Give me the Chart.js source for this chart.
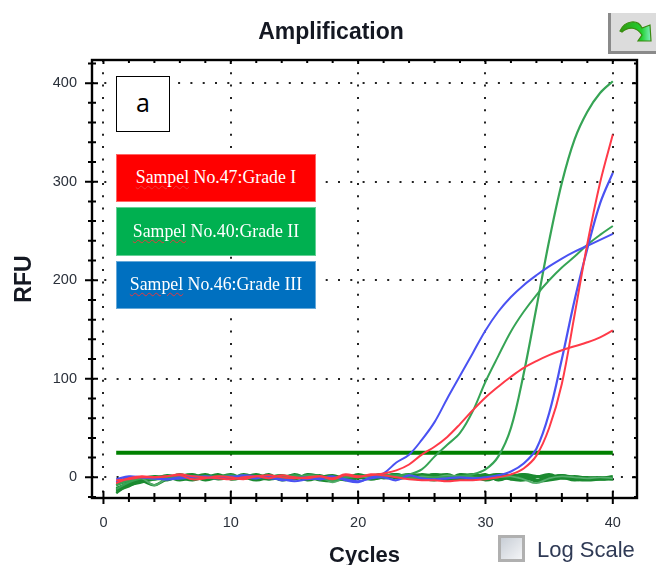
<!DOCTYPE html>
<html>
<head>
<meta charset="utf-8">
<script src="https://cdn.jsdelivr.net/npm/chart.js@4"></script>
<style>
html,body{margin:0;padding:0;background:#fff;width:656px;height:565px;overflow:hidden}
#wrap{position:relative;width:656px;height:565px}
canvas{position:absolute;left:0;top:0;filter:blur(.5px)}
.lab{position:absolute;left:116px;width:200px;color:#fff;text-align:center;font:17.8px "Liberation Serif",serif;box-sizing:border-box;border:1px solid rgba(255,255,255,.4);white-space:nowrap;display:flex;align-items:center;justify-content:center;padding-bottom:1px}
.lab u{text-decoration:underline wavy #e8383c 1px;text-underline-offset:2px}
#a{position:absolute;left:116px;top:76px;width:54px;height:56px;box-sizing:border-box;background:#fff;border:1.5px solid #000;font:25px "Open Sans",sans-serif;text-align:center;line-height:50px;color:#000}
#btn{position:absolute;left:608px;top:13px;width:48px;height:41px;box-sizing:border-box;background:#dcdcdc;border-left:3px solid #8a8a8a;border-bottom:3px solid #8a8a8a}
#chk{position:absolute;left:498px;top:535px;width:27px;height:27px;box-sizing:border-box;border:3px solid #b0b0b0;background:linear-gradient(135deg,#c8ced6,#f4f5f7);filter:blur(.4px)}
#log{position:absolute;left:537px;top:535px;font:22px "Liberation Sans",sans-serif;color:#2f3a55;line-height:30px;white-space:nowrap;filter:blur(.35px)}
</style>
</head>
<body>
<div id="wrap">
<canvas id="c" width="656" height="565"></canvas>
<div id="a">a</div>
<div class="lab" style="top:154px;height:48px;background:#ff0000"><span><u>Sampel</u> No.47:Grade I</span></div>
<div class="lab" style="top:207px;height:49px;background:#00b050"><span><u>Sampel</u> No.40:Grade II</span></div>
<div class="lab" style="top:261px;height:48px;background:#0070c0"><span><u>Sampel</u> No.46:Grade III</span></div>
<div id="btn"><svg width="45" height="38" viewBox="0 0 45 38"><defs><linearGradient id="g" x1="0" x2="1"><stop offset="0" stop-color="#2f9a10"/><stop offset=".7" stop-color="#22d030"/><stop offset="1" stop-color="#7ff0c0"/></linearGradient></defs><path d="M9 18 C14 7 27 6 31 15 L39 12 L40 28 L27 28 L31 22 C26 14 18 13 11 19 Z" fill="url(#g)" stroke="#3a8a10" stroke-width="1.2"/></svg></div>
<div id="chk"></div>
<div id="log">Log Scale</div>
</div>
<script>
const cycles=[1,2,3,4,5,6,7,8,9,10,11,12,13,14,15,16,17,18,19,20,21,22,23,24,25,26,27,28,29,30,31,32,33,34,35,36,37,38,39,40];
const xTickLabels=[0,10,20,30,40];
const yTickLabels=[0,100,200,300,400];
const thresholdValues=cycles.map(()=>25);
const blueEarly=[-5,0,0,-1,-2,0,1,0,-1,0,2,1,-1,-2,-4,-2,-1,1,-3,-5,0,4,15,23,38,56,80,103,126,149,168,183,195,205,214,222,229,235,241,247];
const redEarly=[-3,-2,0,0,1,3,1,0,-1,-2,0,1,2,0,-1,0,1,-1,3,1,2,4,7,13,23,31,41,54,68,81,92,102,111,118,124,129,133,137,142,149];
const greenEarly=[-8,-3,0,-1,0,1,-2,0,1,2,0,0,1,-1,0,1,-1,-3,0,1,2,1,2,3,8,21,33,45,67,97,123,148,168,185,200,213,224,236,246,255];
const greenSteep=[-12,-5,-1,-2,0,-1,0,1,0,1,-1,0,1,0,2,0,1,-1,0,1,2,3,1,0,-1,0,0,1,3,8,21,50,105,172,240,299,343,371,390,402];
const blueSteep=[-2,1,0,-1,-2,-1,0,1,0,1,0,-1,1,-3,-1,0,-2,0,-2,-4,-1,0,-3,2,-1,-2,-1,0,-1,0,2,6,14,29,65,120,180,232,278,309];
const redSteep=[-6,-1,1,0,1,2,-2,-1,1,0,-2,1,-1,2,0,-1,1,-2,2,0,3,2,0,-2,-3,-3,-4,-3,-3,-2,0,3,9,22,50,95,165,237,299,348];
const flatA=[-14,-9,-4,-8,-2,-1,-3,0,-1,1,0,-3,0,2,-1,0,-3,-4,-1,0,1,3,0,2,1,3,0,1,3,0,1,-2,0,-4,-3,-1,1,-1,-2,-1];
const flatB=[-16,-7,-2,-1,2,0,1,-3,0,3,-1,1,-2,0,2,-3,0,2,-1,3,0,1,3,0,-2,1,3,-1,0,3,-3,1,3,1,-2,0,-2,-3,-2,-1];
const flatC=[-11,-6,-3,-2,-1,3,-1,1,-2,0,1,-1,3,-3,0,1,-1,-3,2,-1,2,-1,1,3,2,0,-2,3,1,-3,0,2,1,-3,0,2,0,0,-1,-2];
const flatD=[-8,-3,-1,0,-3,1,3,-1,2,-1,3,0,-2,1,-2,3,1,-1,0,2,-2,0,2,1,-1,-3,1,0,-2,1,3,-2,-3,0,3,-1,-1,-2,-1,1];
const flatE=[-13,-8,-5,-2,0,-3,0,3,-1,2,-1,2,0,-2,3,-1,0,0,-3,-1,1,3,-1,0,3,1,-3,0,2,1,-2,0,3,-3,1,0,-3,-1,0,-1];
const flatF=[-6,-4,-1,1,0,-1,2,0,3,-2,0,3,-1,1,0,-2,2,-3,1,0,-2,1,3,-1,0,3,1,-2,1,-2,3,1,-2,1,0,2,-1,-1,-2,-2];
const dipLine=[-4,-2,-1,-8,-1,0,1,0,-1,1,2,0,1,-1,0,2,1,-5,0,1,0,2,1,-1,1,0,2,1,0,-1,0,1,-2,-6,-1,1,0,-1,0,-1];

const pts=a=>a.map((v,i)=>({x:cycles[i],y:v}));
const line=(data,color,w,t=0.35)=>({data:pts(data),borderColor:color,borderWidth:w,pointRadius:0,tension:t,fill:false});
const RED='#ff3a48',BLUE='#4a52f2',GREEN='#36a455',BAND='#1b8a30';
const datasets=[
 line(redSteep,RED,2),line(redEarly,RED,2),
 line(blueEarly,BLUE,2),line(blueSteep,BLUE,2.2),
 line(greenEarly,GREEN,2),line(greenSteep,GREEN,2.2),
 line(dipLine,'#55ad6c',1.8),
 line(flatA,BAND,2.6),line(flatB,BAND,2.6),line(flatC,BAND,2.6),line(flatD,BAND,2.6),line(flatE,BAND,2.6),line(flatF,BAND,2.6),
 line(thresholdValues,'#008000',4,0)
];
const frame={id:'frame',afterDatasetsDraw(ch){
  const g=ch.ctx,a=ch.chartArea,X=ch.scales.x,Y=ch.scales.y;
  g.save();g.strokeStyle='#000';g.lineWidth=2;
  g.beginPath();
  X.ticks.forEach(t=>{const p=X.getPixelForValue(t.value),mj=t.value%10===0;
    g.moveTo(p,a.bottom+(mj?6:4));g.lineTo(p,a.bottom-(mj?7:5));
    g.moveTo(p,a.top-1);g.lineTo(p,a.top+(mj?4:3));});
  Y.ticks.forEach(t=>{const p=Y.getPixelForValue(t.value),mj=t.value%100===0;
    g.moveTo(a.left-(mj?7:4),p);g.lineTo(a.left+(mj?6:4),p);
    g.moveTo(a.right-(mj?5:3),p);g.lineTo(a.right+1,p);});
  g.stroke();
  g.lineWidth=2.4;g.strokeRect(a.left,a.top,a.right-a.left,a.bottom-a.top);
  g.restore();
}};
const dark='#2a303a';
new Chart(document.getElementById('c'),{
 type:'line',
 data:{datasets},
 plugins:[frame],
 options:{
  responsive:false,animation:false,
  layout:{padding:{left:6}},
  plugins:{legend:{display:false},tooltip:{enabled:false},
   title:{display:true,text:'Amplification',color:'#141822',font:{family:'"Liberation Sans"',size:23,weight:'bold',lineHeight:1.2},padding:{top:19,bottom:13.4}}},
  scales:{
   x:{type:'linear',min:-0.9,max:41.9,
      afterFit(s){s.height=67},
      ticks:{stepSize:2,includeBounds:false,autoSkip:false,maxRotation:0,padding:16,color:dark,font:{family:'"Liberation Sans"',size:14.5},
        callback:v=>xTickLabels.includes(v)?String(v):''},
      grid:{drawTicks:false,color:c=>c.tick&&xTickLabels.includes(c.tick.value)?'#222':'transparent',lineWidth:2},
      border:{display:false,dash:[2,10.3]},
      title:{display:true,text:'Cycles',color:'#141822',font:{family:'"Liberation Sans"',size:22,weight:'bold'},padding:{top:0,bottom:-4}}},
   y:{type:'linear',min:-21,max:423.5,
      afterFit(s){s.width=86},
      ticks:{stepSize:20,includeBounds:false,autoSkip:false,padding:15,color:dark,font:{family:'"Liberation Sans"',size:14.5},
        callback:v=>yTickLabels.includes(v)?String(v):''},
      grid:{drawTicks:false,color:c=>c.tick&&yTickLabels.includes(c.tick.value)?'#222':'transparent',lineWidth:2},
      border:{display:false,dash:[2,10.3]},
      title:{display:true,text:'RFU',color:'#141822',font:{family:'"Liberation Sans"',size:23,weight:'bold'},padding:{top:5,bottom:0}}},
   y2:{type:'linear',position:'right',min:0,max:1,afterFit(s){s.width=19},
      ticks:{display:false},grid:{display:false,drawTicks:false},border:{display:false}}
  }
 }
});
</script>
</body>
</html>
